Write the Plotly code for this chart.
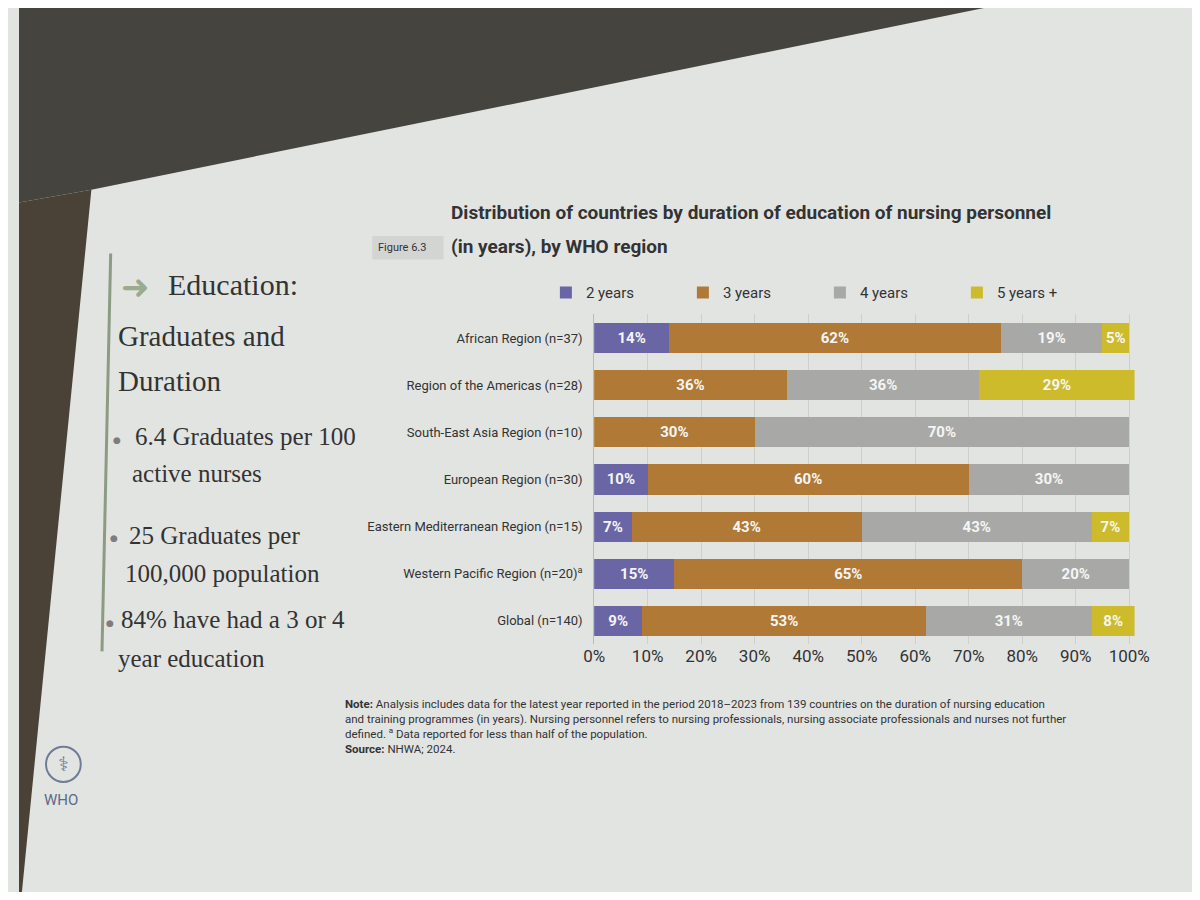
import plotly.graph_objects as go

# values (percent of countries)
regions = [
    "African Region (n=37)",
    "Region of the Americas (n=28)",
    "South-East Asia Region (n=10)",
    "European Region (n=30)",
    "Eastern Mediterranean Region (n=15)",
    "Western Pacific Region (n=20)<sup>a</sup>",
    "Global (n=140)",
]
two_years = [14, 0, 0, 10, 7, 15, 9]
three_years = [62, 36, 30, 60, 43, 65, 53]
four_years = [19, 36, 70, 30, 43, 20, 31]
five_plus = [5, 29, 0, 0, 7, 0, 8]

series_names = ["2 years", "3 years", "4 years", "5 years +"]
series_colors = ["#6a66a6", "#b07a36", "#a8a8a6", "#cdbb2b"]
x_ticks = [0, 10, 20, 30, 40, 50, 60, 70, 80, 90, 100]
x_tick_labels = ["0%", "10%", "20%", "30%", "40%", "50%", "60%", "70%", "80%", "90%", "100%"]

W, H = 1200, 900
SLIDE_BG = "#e2e4e2"


def px(x, y):
    # pixel position -> paper coordinates
    return x / W, 1 - y / H


fig = go.Figure()

for name, vals, col in zip(series_names, [two_years, three_years, four_years, five_plus], series_colors):
    # skip empty segments so no blank labels are drawn
    keep = [i for i, v in enumerate(vals) if v]
    fig.add_trace(go.Bar(
        y=[regions[i] for i in keep],
        x=[vals[i] for i in keep],
        name=name,
        orientation="h",
        marker=dict(color=col, line=dict(width=0)),
        text=[f"{vals[i]}%" for i in keep],
        textposition="inside",
        insidetextanchor="middle",
        textfont=dict(family="Roboto", size=15, color="#f5f5f5", weight="bold"),
        hoverinfo="x+y+name",
    ))

fig.update_layout(
    barmode="stack",
    bargap=0.36,
    paper_bgcolor=SLIDE_BG,
    plot_bgcolor=SLIDE_BG,
    margin=dict(l=0, r=0, t=0, b=0),
    font=dict(family="Roboto", color="#333333"),
    showlegend=True,
    legend=dict(
        orientation="h",
        x=px(546, 0)[0], y=px(0, 290)[1],
        xanchor="left", yanchor="middle",
        font=dict(size=15, color="#333333"),
        bgcolor="rgba(0,0,0,0)",
        itemclick=False,
        traceorder="normal",
        entrywidth=92,
    ),
    xaxis=dict(
        domain=[px(596, 0)[0], px(1156, 0)[0]],
        range=[0, 101],
        tickvals=x_ticks,
        ticktext=x_tick_labels,
        tickfont=dict(size=17, color="#333333"),
        showgrid=True,
        gridcolor="#cdd0ce",
        gridwidth=1,
        zeroline=False,
        showline=False,
        ticks="",
        anchor="y",
    ),
    yaxis=dict(
        domain=[px(0, 648)[1], px(0, 312)[1]],
        categoryorder="array",
        categoryarray=regions,
        autorange="reversed",
        tickfont=dict(size=13, color="#333333"),
        ticks="",
        showline=True,
        linecolor="#b9bcba",
        linewidth=1,
        ticklabelstandoff=8,
    ),
)

# photo surroundings: ceiling above the slide and wall on the left
fig.add_shape(type="path", xref="paper", yref="paper",
              path=f"M 0 1 L 1 1 L {px(1000, 0)[0]} {px(0, 0)[1]} L {px(75, 0)[0]} {px(0, 185)[1]} L 0 {px(0, 198)[1]} Z",
              fillcolor="#46443f", line=dict(width=0), layer="below")
fig.add_shape(type="path", xref="paper", yref="paper",
              path=f"M 0 {px(0, 198)[1]} L {px(75, 0)[0]} {px(0, 185)[1]} L {px(3, 0)[0]} 0 L 0 0 Z",
              fillcolor="#4a4137", line=dict(width=0), layer="below")

# green rule on the left
lx0, ly0 = px(95, 250)
lx1, ly1 = px(86, 655)
fig.add_shape(type="line", xref="paper", yref="paper", x0=lx0, y0=ly0, x1=lx1, y1=ly1,
              line=dict(color="#8c9b82", width=3))

# "Figure 6.3" tag
fx0, fy0 = px(366, 232)
fx1, fy1 = px(440, 256)
fig.add_shape(type="rect", xref="paper", yref="paper", x0=fx0, y0=fy0, x1=fx1, y1=fy1,
              fillcolor="#d3d5d3", line=dict(width=0))


def note(x, y, text, size, family="Roboto", color="#333333", anchor="left"):
    ax, ay = px(x, y)
    fig.add_annotation(x=ax, y=ay, xref="paper", yref="paper", text=text, showarrow=False,
                       xanchor=anchor, yanchor="middle", align="left",
                       font=dict(size=size, family=family, color=color))


# chart title
note(370, 244, "Figure 6.3", 11)
note(446, 208, "<b>Distribution of countries by duration of education of nursing personnel</b>", 19)
note(446, 243, "<b>(in years), by WHO region</b>", 19)

# left panel of the slide
serif = "Liberation Serif"
note(104, 284, "➜", 34, family="DejaVu Sans", color="#9aab8e")
note(152, 282, "Education:", 30, family=serif)
note(100, 334, "Graduates and", 29, family=serif)
note(100, 380, "Duration", 29, family=serif)
for bx, by in [(95, 440), (92, 540), (88, 626)]:
    note(bx, by, "●", 9, family="DejaVu Sans", color="#7d7d7d")
note(118, 436, "6.4 Graduates per 100", 25, family=serif)
note(115, 474, "active nurses", 25, family=serif)
note(112, 537, "25 Graduates per", 25, family=serif)
note(108, 576, "100,000 population", 25, family=serif)
note(104, 623, "84% have had a 3 or 4", 25, family=serif)
note(100, 662, "year education", 25, family=serif)

# WHO emblem (simplified)
cx0, cy0 = px(28, 752)
cx1, cy1 = px(64, 788)
fig.add_shape(type="circle", xref="paper", yref="paper", x0=cx0, y0=cy0, x1=cx1, y1=cy1,
              line=dict(color="#6f7c96", width=2))
note(46, 770, "⚕", 20, family="DejaVu Sans", color="#6f7c96", anchor="center")
note(44, 806, "WHO", 15, family="Roboto", color="#5d6a88", anchor="center")

# note and source
note(336, 732,
     "<b>Note:</b> Analysis includes data for the latest year reported in the period 2018–2023 from 139 countries on the duration of nursing education<br>"
     "and training programmes (in years). Nursing personnel refers to nursing professionals, nursing associate professionals and nurses not further<br>"
     "defined. <sup>a</sup> Data reported for less than half of the population.<br>"
     "<b>Source:</b> NHWA; 2024.",
     11.5)

fig.write_html("out.html")
